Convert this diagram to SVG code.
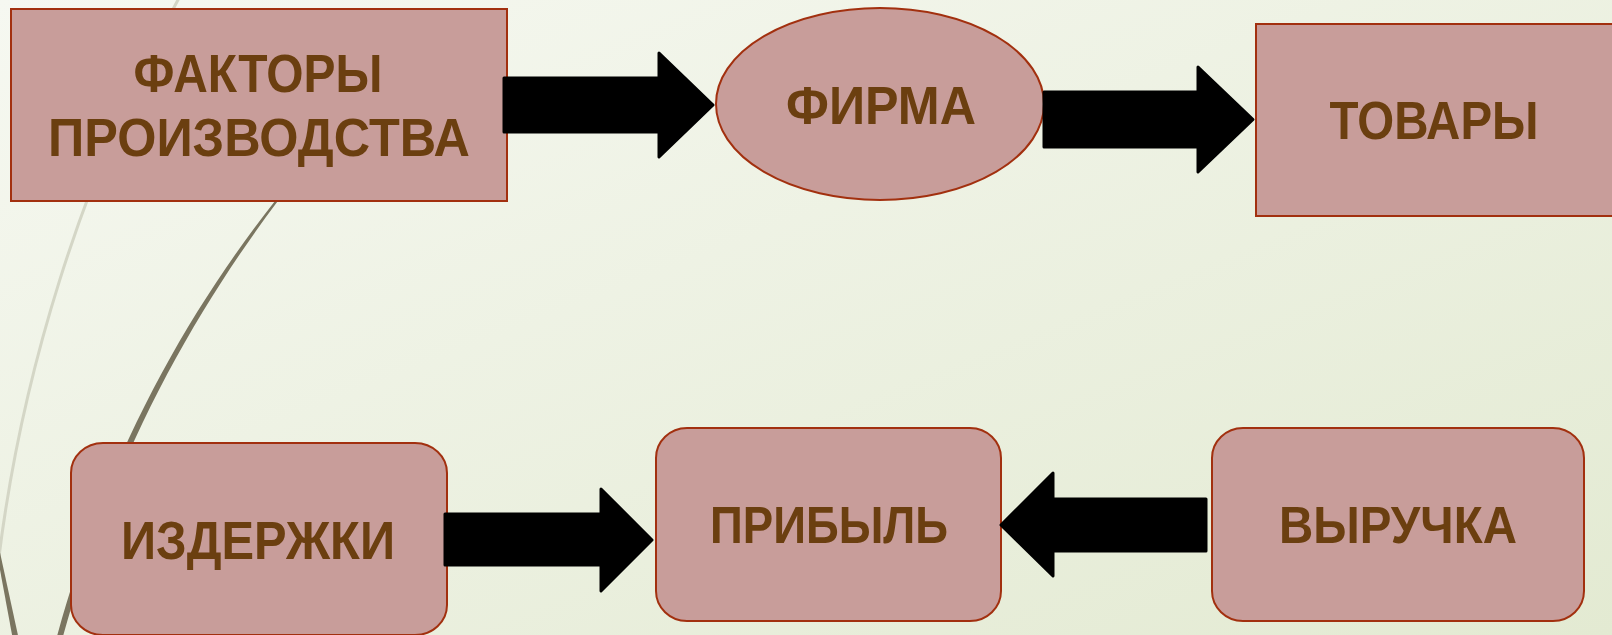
<svg xmlns="http://www.w3.org/2000/svg" width="1612" height="635" viewBox="0 0 1612 635">
  <defs>
    <linearGradient id="bg" x1="0" y1="0" x2="1" y2="1">
      <stop offset="0" stop-color="#F6F8F1"/>
      <stop offset="1" stop-color="#E3EAD2"/>
    </linearGradient>
  </defs>
  <style>
    .node { fill: #C89D9A; stroke: #A2300F; stroke-width: 2; }
    .label { font-family: "Liberation Sans", Arial, sans-serif; font-weight: bold; fill: #6B3F10; text-anchor: middle; }
    .arrow { fill: #000; stroke: #000; stroke-width: 3; stroke-linejoin: round; }
    .wisp-light { fill: none; stroke: #D4D6C6; stroke-width: 3; }
    .wisp-dark { fill: #7A7560; }
  </style>

  <!-- background -->
  <rect x="0" y="0" width="1612" height="635" fill="url(#bg)"/>

  <!-- decorative wisps -->
  <g id="wisps">
    <path class="wisp-light" d="M 179 -2 C 80 180, 20 380, -2 565"/>
    <path class="wisp-dark" d="M 300 170 C 200 290, 110 440, 56 640 L 62 640 C 115 445, 205 292, 301 171 Z"/>
    <path class="wisp-dark" d="M -4 548 L -1 548 L 19 640 L 13 640 Z"/>
  </g>

  <!-- nodes -->
  <g id="factors">
    <rect class="node" x="11" y="9" width="496" height="192"/>
    <text class="label" x="258" y="92" font-size="53" textLength="249" lengthAdjust="spacingAndGlyphs">ФАКТОРЫ</text>
    <text class="label" x="259" y="156" font-size="53" textLength="422" lengthAdjust="spacingAndGlyphs">ПРОИЗВОДСТВА</text>
  </g>

  <g id="firm">
    <ellipse class="node" cx="880" cy="104" rx="164" ry="96"/>
    <text class="label" x="881" y="124" font-size="53" textLength="190" lengthAdjust="spacingAndGlyphs">ФИРМА</text>
  </g>

  <g id="goods">
    <rect class="node" x="1256" y="24" width="370" height="192"/>
    <text class="label" x="1434" y="139" font-size="54" textLength="209" lengthAdjust="spacingAndGlyphs">ТОВАРЫ</text>
  </g>

  <g id="costs">
    <rect class="node" x="71" y="443" width="376" height="192" rx="32" ry="30"/>
    <text class="label" x="258" y="559" font-size="54" textLength="274" lengthAdjust="spacingAndGlyphs">ИЗДЕРЖКИ</text>
  </g>

  <g id="profit">
    <rect class="node" x="656" y="428" width="345" height="193" rx="31" ry="30"/>
    <text class="label" x="829" y="543" font-size="51" textLength="238" lengthAdjust="spacingAndGlyphs">ПРИБЫЛЬ</text>
  </g>

  <g id="revenue">
    <rect class="node" x="1212" y="428" width="372" height="193" rx="31" ry="30"/>
    <text class="label" x="1398" y="543" font-size="51" textLength="238" lengthAdjust="spacingAndGlyphs">ВЫРУЧКА</text>
  </g>

  <!-- connectors -->
  <g id="connectors">
    <polygon class="arrow" points="504,78 659,78 659,53 713,105 659,157 659,132 504,132"/>
    <polygon class="arrow" points="1044,92 1198,92 1198,67 1253,119.5 1198,172 1198,147 1044,147"/>
    <polygon class="arrow" points="445,514 601,514 601,489 652,540 601,591 601,565 445,565"/>
    <polygon class="arrow" points="1206,499 1053,499 1053,473 1001,525 1053,576 1053,551 1206,551"/>
  </g>
</svg>
